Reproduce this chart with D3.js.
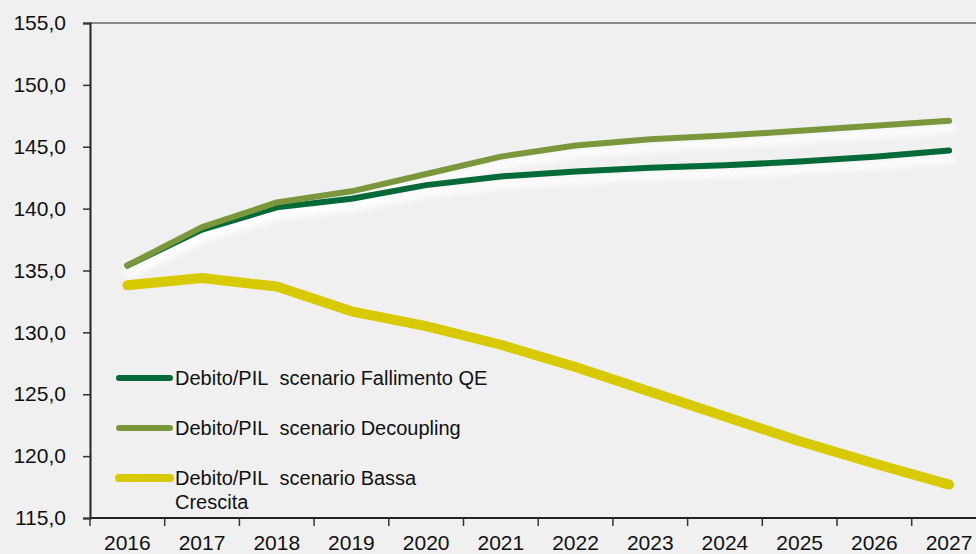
<!DOCTYPE html>
<html>
<head>
<meta charset="utf-8">
<script src="https://cdn.jsdelivr.net/npm/d3@7"></script>
<style>
  html, body { margin: 0; padding: 0; background: #f0f0f0; }
  svg { display: block; font-family: "Liberation Sans", Arial, sans-serif; }
</style>
</head>
<body>
<svg id="chart"></svg>
<script>
// Data
const years = ['2016', '2017', '2018', '2019', '2020', '2021', '2022', '2023', '2024', '2025', '2026', '2027'];
const fallimentoQE = [135.4, 138.3, 140.1, 140.8, 141.9, 142.6, 143.0, 143.3, 143.5, 143.8, 144.2, 144.7];
const decoupling = [135.4, 138.5, 140.5, 141.4, 142.8, 144.2, 145.1, 145.6, 145.9, 146.3, 146.7, 147.1];
const bassaCrescita = [133.8, 134.4, 133.7, 131.7, 130.5, 129.0, 127.2, 125.2, 123.2, 121.2, 119.4, 117.7];
const yTicks = [115, 120, 125, 130, 135, 140, 145, 150, 155];

const series = [
    { name: 'Debito/PIL\u00a0 scenario Fallimento QE', values: fallimentoQE, color: '#046a38', width: 6, shadow: true },
    { name: 'Debito/PIL\u00a0 scenario Decoupling', values: decoupling, color: '#7a983b', width: 6, shadow: true },
    { name: 'Debito/PIL\u00a0 scenario Bassa|Crescita', values: bassaCrescita, color: '#d8ca00', width: 10, shadow: false }
];

const width = 976, height = 554;
const plotLeft = 90, plotTop = 23, plotBottom = 518;

const svg = d3.select('#chart')
    .attr('width', width)
    .attr('height', height);

// blur for the white shadow under the lines
const defs = svg.append('defs');
defs.append('filter')
    .attr('id', 'blur')
    .attr('x', '-5%').attr('y', '-50%')
    .attr('width', '110%').attr('height', '200%')
    .append('feGaussianBlur')
    .attr('stdDeviation', 3);

const x = d3.scaleBand()
    .domain(years)
    .range([plotLeft, plotLeft + 74.7 * years.length])
    .padding(0);

const y = d3.scaleLinear()
    .domain([115, 155])
    .range([plotBottom, plotTop]);

const fmt = v => d3.format('.1f')(v).replace('.', ',');

// top border
svg.append('line')
    .attr('x1', plotLeft).attr('x2', width)
    .attr('y1', y(155)).attr('y2', y(155))
    .attr('stroke', '#666')
    .attr('stroke-width', 1.5);

// y axis
const yAxis = svg.append('g')
    .attr('transform', `translate(${plotLeft},0)`)
    .call(d3.axisLeft(y).tickValues(yTicks).tickFormat(fmt).tickSize(7).tickPadding(17));
yAxis.select('.domain').attr('stroke', '#222').attr('stroke-width', 2);
yAxis.selectAll('.tick line').attr('stroke', '#333').attr('stroke-width', 1.5);
yAxis.selectAll('text').attr('font-size', 21).attr('fill', '#111');

// x axis, ticks between categories
const xAxis = svg.append('g')
    .attr('transform', `translate(0,${plotBottom})`);
xAxis.append('line')
    .attr('x1', plotLeft).attr('x2', width)
    .attr('stroke', '#222').attr('stroke-width', 2);
xAxis.selectAll('line.tick')
    .data(years)
    .enter()
    .append('line')
    .attr('class', 'tick')
    .attr('x1', d => x(d)).attr('x2', d => x(d))
    .attr('y1', 0).attr('y2', 8)
    .attr('stroke', '#333').attr('stroke-width', 1.5);
xAxis.selectAll('text')
    .data(years)
    .enter()
    .append('text')
    .attr('x', d => x(d) + x.bandwidth() / 2)
    .attr('y', 32)
    .attr('text-anchor', 'middle')
    .attr('font-size', 21)
    .attr('fill', '#111')
    .text(d => d);

// lines
const line = d3.line()
    .x((d, i) => x(years[i]) + x.bandwidth() / 2)
    .y(d => y(d));

// shadows first, all under the lines
svg.append('g')
    .attr('transform', 'translate(2,8)')
    .attr('filter', 'url(#blur)')
    .selectAll('path')
    .data(series.filter(s => s.shadow))
    .enter()
    .append('path')
    .attr('d', d => line(d.values))
    .attr('fill', 'none')
    .attr('stroke', '#ffffff')
    .attr('stroke-opacity', 0.9)
    .attr('stroke-width', d => d.width + 2)
    .attr('stroke-linecap', 'round');

svg.append('g')
    .selectAll('path')
    .data(series)
    .enter()
    .append('path')
    .attr('d', d => line(d.values))
    .attr('fill', 'none')
    .attr('stroke', d => d.color)
    .attr('stroke-width', d => d.width)
    .attr('stroke-linecap', 'round')
    .attr('stroke-linejoin', 'round');

// legend
const legend = svg.append('g');
const legendY = [378, 428, 478];
series.forEach((s, i) => {
    const g = legend.append('g').attr('transform', `translate(0,${legendY[i]})`);
    g.append('line')
        .attr('x1', 119).attr('x2', 170)
        .attr('stroke', s.color)
        .attr('stroke-width', i === 2 ? 8 : 6)
        .attr('stroke-linecap', 'round');
    const t = g.append('text')
        .attr('x', 175)
        .attr('y', 7)
        .attr('font-size', 20)
        .attr('fill', '#111');
    s.name.split('|').forEach((part, j) => {
        t.append('tspan')
            .attr('x', 175)
            .attr('dy', j === 0 ? 0 : 24)
            .text(part);
    });
});
</script>
</body>
</html>
